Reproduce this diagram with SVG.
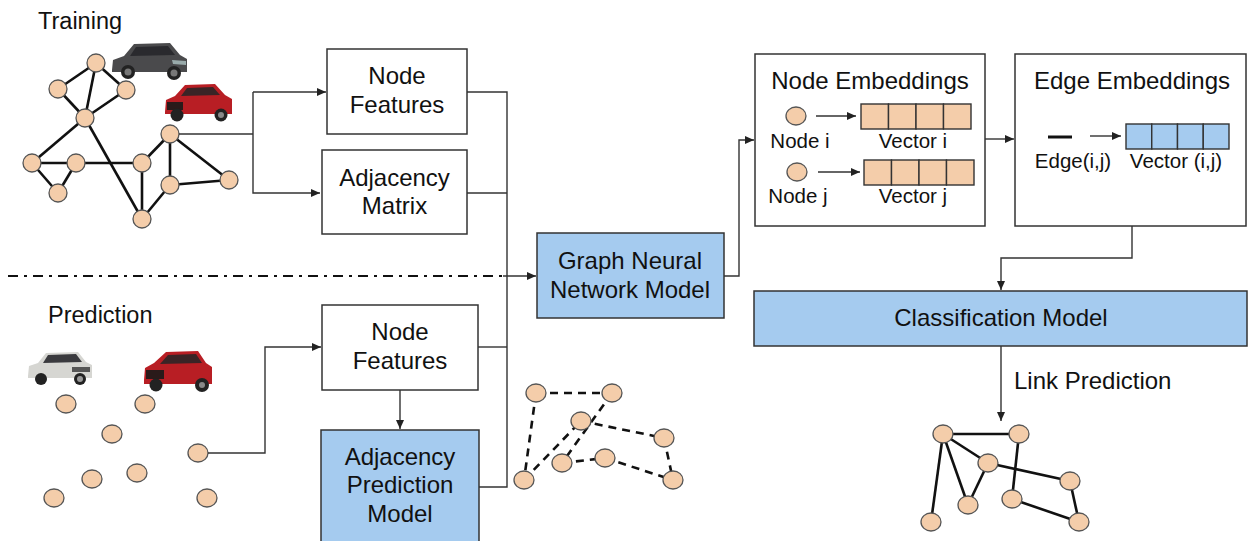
<svg xmlns="http://www.w3.org/2000/svg" width="1248" height="541" viewBox="0 0 1248 541">
<style>
text{font-family:"Liberation Sans",Arial,sans-serif;fill:#111}
.t{font-size:24px;text-anchor:middle}
.s{font-size:20.5px;text-anchor:middle}
.box{fill:#fff;stroke:#333;stroke-width:1.5}
.blue{fill:#a5cbef;stroke:#333;stroke-width:1.5}
.peach{fill:#f4cdaa}
.node{fill:#f4cdaa;stroke:#555;stroke-width:1.3}
.edge{stroke:#111;stroke-width:2.6;fill:none}
.dash{stroke:#111;stroke-width:2.6;fill:none;stroke-dasharray:8 6}
.conn{stroke:#333;stroke-width:1.4;fill:none}
.cell{stroke:#333;stroke-width:1.4}
</style>
<defs>
<marker id="arr" markerUnits="userSpaceOnUse" markerWidth="10" markerHeight="8" refX="9" refY="4" orient="auto">
<path d="M0,0 L9,4 L0,8 Z" fill="#222"/>
</marker>
</defs>

<text x="38" y="29" style="font-size:23.5px">Training</text>
<text x="48" y="323" style="font-size:23.5px">Prediction</text>

<!-- cars -->
<g id="car1" transform="translate(110,40)">
<path d="M2,30 L3,20 L14,16 L24,4 L60,3 L70,15 L77,19 L77,32 L2,32 Z" fill="#4a4a4c"/>
<path d="M26,7 L58,6 L65,15 L20,16 Z" fill="#2a2a2e"/>
<path d="M62,20 L76,21 L76,25 L63,24 Z" fill="#9aa"/>
<circle cx="18" cy="32" r="7" fill="#222"/><circle cx="18" cy="32" r="3.5" fill="#777"/>
<circle cx="64" cy="33" r="7" fill="#222"/><circle cx="64" cy="33" r="3.5" fill="#777"/>
</g>
<g id="car2" transform="translate(163,82)">
<path d="M2,30 L3,18 L12,14 L22,3 L52,2 L62,13 L69,17 L69,32 L2,32 Z" fill="#b81e24"/>
<path d="M24,6 L50,5 L57,13 L18,14 Z" fill="#3a2426"/>
<path d="M4,20 L20,20 L20,28 L4,28 Z" fill="#2a1a1a"/>
<circle cx="14" cy="33" r="6.5" fill="#222"/>
<circle cx="58" cy="33" r="6.5" fill="#222"/><circle cx="58" cy="33" r="3" fill="#888"/>
</g>
<g id="car3" transform="translate(26,350)">
<path d="M2,26 L3,16 L12,13 L20,3 L52,2 L60,12 L66,15 L66,28 L2,28 Z" fill="#d6d6d2"/>
<path d="M22,5 L50,4 L56,12 L17,13 Z" fill="#3a3a3e"/>
<path d="M46,17 L64,17 L64,22 L46,22 Z" fill="#555"/>
<circle cx="15" cy="29" r="6" fill="#222"/>
<circle cx="54" cy="29" r="6" fill="#222"/><circle cx="54" cy="29" r="3" fill="#999"/>
</g>
<g id="car4" transform="translate(142,348)">
<path d="M2,32 L3,20 L12,15 L24,4 L56,3 L64,15 L70,19 L70,36 L2,36 Z" fill="#b81e24"/>
<path d="M26,7 L54,6 L60,15 L18,16 Z" fill="#3a2426"/>
<path d="M4,22 L22,22 L22,31 L4,31 Z" fill="#2a1a1a"/>
<circle cx="14" cy="37" r="6.5" fill="#222"/>
<circle cx="60" cy="37" r="7" fill="#222"/><circle cx="60" cy="37" r="3" fill="#888"/>
</g>

<!-- training graph -->
<g id="training-graph">
<g class="edge">
<line x1="96" y1="63" x2="58" y2="89"/><line x1="96" y1="63" x2="126" y2="90"/>
<line x1="96" y1="63" x2="85" y2="118"/><line x1="58" y1="89" x2="85" y2="118"/>
<line x1="126" y1="90" x2="85" y2="118"/><line x1="85" y1="118" x2="32" y2="163"/>
<line x1="85" y1="118" x2="142" y2="219"/><line x1="32" y1="163" x2="76" y2="163"/>
<line x1="32" y1="163" x2="58" y2="193"/><line x1="76" y1="163" x2="58" y2="193"/>
<line x1="76" y1="163" x2="142" y2="163"/><line x1="142" y1="163" x2="170" y2="134"/>
<line x1="142" y1="163" x2="142" y2="219"/><line x1="170" y1="134" x2="170" y2="185"/>
<line x1="170" y1="134" x2="229" y2="180"/><line x1="170" y1="185" x2="229" y2="180"/>
<line x1="170" y1="185" x2="142" y2="219"/>
</g>
<g class="node">
<ellipse cx="96" cy="63" rx="9" ry="9"/><ellipse cx="58" cy="89" rx="9" ry="9"/>
<ellipse cx="126" cy="90" rx="9" ry="9"/><ellipse cx="85" cy="118" rx="9" ry="9"/>
<ellipse cx="170" cy="134" rx="9" ry="9"/><ellipse cx="32" cy="163" rx="9" ry="9"/>
<ellipse cx="76" cy="163" rx="9" ry="9"/><ellipse cx="142" cy="163" rx="9" ry="9"/>
<ellipse cx="58" cy="193" rx="9" ry="9"/><ellipse cx="170" cy="185" rx="9" ry="9"/>
<ellipse cx="229" cy="180" rx="9" ry="9"/><ellipse cx="142" cy="219" rx="9" ry="9"/>
</g>
</g>

<!-- prediction nodes -->
<g id="prediction-nodes" class="node">
<ellipse cx="66" cy="404" rx="10" ry="9"/><ellipse cx="145" cy="404" rx="10" ry="9"/>
<ellipse cx="112" cy="434" rx="10" ry="9"/><ellipse cx="198" cy="453" rx="10" ry="9"/>
<ellipse cx="92" cy="479" rx="10" ry="9"/><ellipse cx="137" cy="473" rx="10" ry="9"/>
<ellipse cx="54" cy="498" rx="10" ry="9"/><ellipse cx="207" cy="498" rx="10" ry="9"/>
</g>

<!-- connectors -->
<g id="connectors">
<path class="conn" d="M179,134 H253"/>
<path class="conn" d="M253,92 V193 H320" marker-end="url(#arr)"/>
<path class="conn" d="M253,92 H326" marker-end="url(#arr)"/>
<path class="conn" d="M467,92 H507 V487 H479"/>
<path class="conn" d="M467,193 H507"/>
<path class="conn" d="M478,347 H507"/>
<line x1="8" y1="276" x2="503" y2="276" stroke="#111" stroke-width="2" stroke-dasharray="10 6 3 6"/>
<path class="conn" d="M503,276 H536" stroke-width="1.8" marker-end="url(#arr)"/>
<path class="conn" d="M208,453 H265 V347 H321" marker-end="url(#arr)"/>
<path class="conn" d="M400,390 V429" marker-end="url(#arr)"/>
<path class="conn" d="M724,276 H739 V140 H754" marker-end="url(#arr)"/>
<path class="conn" d="M985,139 H1014" marker-end="url(#arr)"/>
<path class="conn" d="M1132,226 V258 H1001 V290" marker-end="url(#arr)"/>
<path class="conn" d="M1001,346 V421" marker-end="url(#arr)"/>
</g>

<g id="node-features-train">
<rect class="box" x="327" y="49" width="140" height="85"/>
<text class="t" x="397" y="84">Node</text>
<text class="t" x="397" y="113">Features</text>
</g>
<g id="adjacency-matrix">
<rect class="box" x="322" y="150" width="145" height="84"/>
<text class="t" x="394.5" y="186">Adjacency</text>
<text class="t" x="394.5" y="214">Matrix</text>
</g>
<g id="gnn">
<rect class="blue" x="537" y="233" width="187" height="85"/>
<text class="t" x="630" y="269">Graph Neural</text>
<text class="t" x="630" y="298">Network Model</text>
</g>
<g id="node-features-pred">
<rect class="box" x="322" y="305" width="156" height="85"/>
<text class="t" x="400" y="340">Node</text>
<text class="t" x="400" y="369">Features</text>
</g>
<g id="adjacency-prediction-model">
<rect class="blue" x="321" y="430" width="158" height="116"/>
<text class="t" x="400" y="465">Adjacency</text>
<text class="t" x="400" y="493">Prediction</text>
<text class="t" x="400" y="522">Model</text>
</g>

<!-- dashed predicted graph -->
<g id="dashed-graph">
<g class="dash">
<line x1="536" y1="393" x2="612" y2="393"/><line x1="536" y1="393" x2="524" y2="480"/>
<line x1="524" y1="480" x2="581" y2="421"/><line x1="612" y1="393" x2="562" y2="463"/>
<line x1="581" y1="421" x2="664" y2="438"/><line x1="664" y1="438" x2="673" y2="480"/>
<line x1="562" y1="463" x2="605" y2="458"/><line x1="605" y1="458" x2="673" y2="480"/>
</g>
<g class="node">
<ellipse cx="536" cy="393" rx="10" ry="9"/><ellipse cx="612" cy="393" rx="10" ry="9"/>
<ellipse cx="581" cy="421" rx="10" ry="9"/><ellipse cx="664" cy="438" rx="10" ry="9"/>
<ellipse cx="562" cy="463" rx="10" ry="9"/><ellipse cx="605" cy="458" rx="10" ry="9"/>
<ellipse cx="524" cy="480" rx="10" ry="9"/><ellipse cx="673" cy="480" rx="10" ry="9"/>
</g>
</g>

<g id="node-embeddings">
<rect class="box" x="755" y="54" width="230" height="172"/>
<text x="870" y="89" style="font-size:24px;text-anchor:middle">Node Embeddings</text>
<ellipse class="node" cx="796" cy="116" rx="10" ry="9"/>
<path class="conn" d="M816,116 H856" marker-end="url(#arr)"/>
<g class="peach">
<rect class="cell" x="861" y="104" width="27.5" height="25"/><rect class="cell" x="888.5" y="104" width="27.5" height="25"/>
<rect class="cell" x="916" y="104" width="27.5" height="25"/><rect class="cell" x="943.5" y="104" width="27.5" height="25"/>
</g>
<text class="s" x="800" y="148">Node i</text>
<text class="s" x="913" y="148">Vector i</text>
<ellipse class="node" cx="797" cy="172" rx="10" ry="9"/>
<path class="conn" d="M818,172 H860" marker-end="url(#arr)"/>
<g class="peach">
<rect class="cell" x="864" y="160" width="27.5" height="25"/><rect class="cell" x="891.5" y="160" width="27.5" height="25"/>
<rect class="cell" x="919" y="160" width="27.5" height="25"/><rect class="cell" x="946.5" y="160" width="27.5" height="25"/>
</g>
<text class="s" x="798" y="203">Node j</text>
<text class="s" x="913" y="203">Vector j</text>
</g>

<g id="edge-embeddings">
<rect class="box" x="1015" y="54" width="231" height="172"/>
<text x="1132" y="89" style="font-size:24px;text-anchor:middle">Edge Embeddings</text>
<line x1="1048" y1="137" x2="1072" y2="137" stroke="#111" stroke-width="3"/>
<path class="conn" d="M1090,136 H1121" marker-end="url(#arr)"/>
<g fill="#a5cbef">
<rect class="cell" x="1126" y="124" width="25.75" height="25"/><rect class="cell" x="1151.75" y="124" width="25.75" height="25"/>
<rect class="cell" x="1177.5" y="124" width="25.75" height="25"/><rect class="cell" x="1203.25" y="124" width="25.75" height="25"/>
</g>
<text class="s" x="1073" y="168">Edge(i,j)</text>
<text class="s" x="1176" y="168">Vector (i,j)</text>
</g>

<g id="classification-model">
<rect class="blue" x="754" y="291" width="493" height="55"/>
<text class="t" x="1001" y="326">Classification Model</text>
</g>
<text x="1014" y="389" style="font-size:24px">Link Prediction</text>

<!-- result graph -->
<g id="result-graph">
<g class="edge">
<line x1="943" y1="434" x2="1019" y2="434"/><line x1="943" y1="434" x2="931" y2="522"/>
<line x1="943" y1="434" x2="968" y2="505"/><line x1="943" y1="434" x2="988" y2="463"/>
<line x1="988" y1="463" x2="968" y2="505"/><line x1="988" y1="463" x2="1070" y2="481"/>
<line x1="1019" y1="434" x2="1012" y2="499"/><line x1="1070" y1="481" x2="1079" y2="522"/>
<line x1="1012" y1="499" x2="1079" y2="522"/>
</g>
<g class="node">
<ellipse cx="943" cy="434" rx="10" ry="9"/><ellipse cx="1019" cy="434" rx="10" ry="9"/>
<ellipse cx="988" cy="463" rx="10" ry="9"/><ellipse cx="1070" cy="481" rx="10" ry="9"/>
<ellipse cx="1012" cy="499" rx="10" ry="9"/><ellipse cx="968" cy="505" rx="10" ry="9"/>
<ellipse cx="931" cy="522" rx="10" ry="9"/><ellipse cx="1079" cy="522" rx="10" ry="9"/>
</g>
</g>
</svg>
